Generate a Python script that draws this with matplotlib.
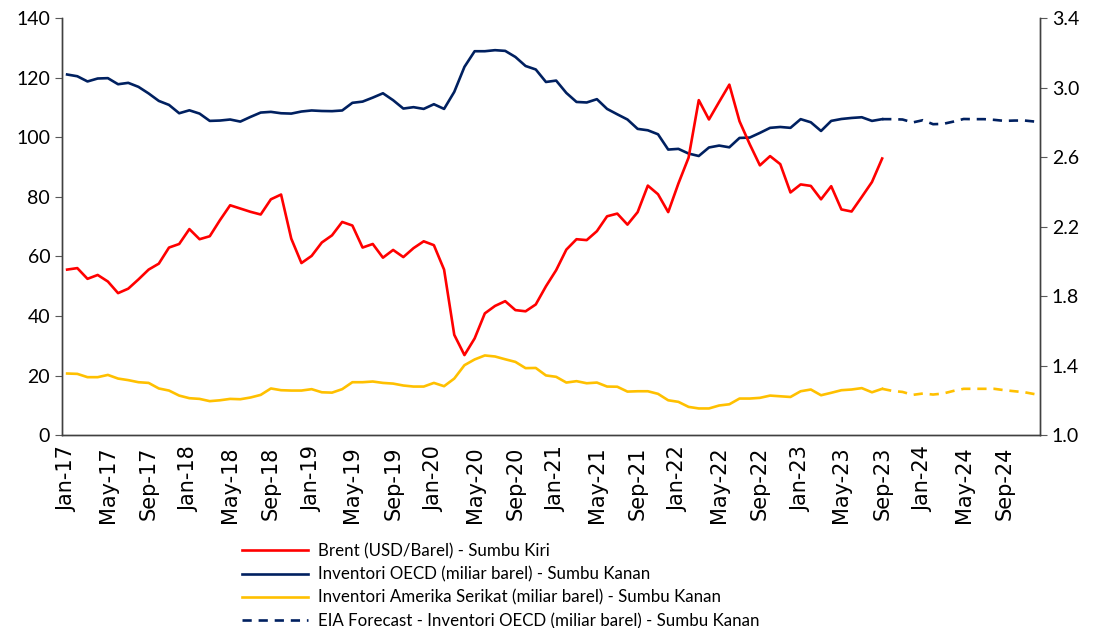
import matplotlib
matplotlib.use("Agg")
import matplotlib.pyplot as plt
import numpy as np
import pandas as pd

plt.rcParams['font.family'] = ['Lato', 'DejaVu Sans']

# monthly categories Jan-17 .. Dec-24
months = pd.date_range('2017-01-01', periods=96, freq='MS').strftime('%b-%y').tolist()

# Brent (USD/barel), Jan-17 .. Sep-23
brent = [55.6, 56.1, 52.5, 53.8, 51.6, 47.7, 49.2, 52.3, 55.6, 57.6, 63.0, 64.2,
         69.2, 65.8, 66.8, 72.2, 77.2, 76.1, 75.0, 74.1, 79.2, 80.8, 66.0, 57.8,
         60.2, 64.7, 67.1, 71.6, 70.4, 63.0, 64.2, 59.6, 62.2, 59.8, 62.8, 65.1,
         63.8, 55.6, 33.7, 26.9, 32.5, 40.9, 43.4, 45.0, 42.0, 41.6, 43.9, 50.0,
         55.4, 62.3, 65.8, 65.5, 68.5, 73.5, 74.4, 70.7, 74.9, 83.8, 80.9, 74.9,
         84.5, 93.2, 112.5, 106.0, 111.9, 117.7, 105.4, 97.7, 90.6, 93.7, 91.0, 81.5,
         84.2, 83.7, 79.2, 83.6, 75.8, 75.1, 80.0, 85.0, 92.9]

# OECD inventories (miliar barel), Jan-17 .. Sep-23
oecd = [3.076, 3.066, 3.036, 3.053, 3.055, 3.020, 3.028, 3.005, 2.967, 2.924, 2.901, 2.853,
        2.870, 2.851, 2.809, 2.811, 2.817, 2.805, 2.832, 2.857, 2.861, 2.853, 2.851, 2.863,
        2.869, 2.866, 2.865, 2.869, 2.913, 2.920, 2.943, 2.968, 2.928, 2.880, 2.888, 2.878,
        2.905, 2.878, 2.976, 3.120, 3.210, 3.210, 3.216, 3.212, 3.177, 3.125, 3.105, 3.033,
        3.041, 2.970, 2.918, 2.915, 2.934, 2.878, 2.847, 2.817, 2.763, 2.755, 2.732, 2.644,
        2.648, 2.621, 2.607, 2.656, 2.667, 2.657, 2.711, 2.713, 2.740, 2.769, 2.774, 2.769,
        2.819, 2.801, 2.751, 2.809, 2.820, 2.826, 2.830, 2.809, 2.819]

# US inventories (miliar barel), Jan-17 .. Sep-23
us = [1.355, 1.353, 1.334, 1.334, 1.347, 1.326, 1.317, 1.305, 1.301, 1.269, 1.257, 1.228,
      1.213, 1.209, 1.196, 1.201, 1.209, 1.207, 1.217, 1.232, 1.269, 1.259, 1.257, 1.257,
      1.265, 1.247, 1.245, 1.265, 1.305, 1.305, 1.309, 1.301, 1.297, 1.286, 1.280, 1.280,
      1.301, 1.282, 1.326, 1.403, 1.436, 1.459, 1.453, 1.437, 1.422, 1.386, 1.387, 1.344,
      1.336, 1.303, 1.311, 1.299, 1.303, 1.280, 1.279, 1.251, 1.253, 1.253, 1.238, 1.201,
      1.192, 1.163, 1.154, 1.154, 1.171, 1.178, 1.211, 1.211, 1.215, 1.228, 1.224, 1.220,
      1.253, 1.263, 1.230, 1.244, 1.259, 1.263, 1.271, 1.247, 1.267]

# EIA forecast, Sep-23 .. Dec-24
oecd_fc = [2.819, 2.819, 2.817, 2.800, 2.813, 2.790, 2.792, 2.805,
           2.820, 2.819, 2.819, 2.815, 2.809, 2.811, 2.811, 2.805]
us_fc = [1.267, 1.255, 1.249, 1.232, 1.240, 1.234, 1.240, 1.255,
         1.267, 1.267, 1.267, 1.267, 1.259, 1.253, 1.247, 1.236]

x = np.arange(len(months))
x_act = x[:len(brent)]
x_fc = x[len(brent) - 1:]

RED = '#FF0000'
NAVY = '#002060'
GOLD = '#FFC000'

fig = plt.figure(figsize=(10.94, 6.28), dpi=100)
ax = fig.add_axes([0.0567, 0.307, 0.894, 0.664])
ax2 = ax.twinx()

l1, = ax.plot(x_act, brent, color=RED, lw=1.9, label='Brent (USD/Barel) - Sumbu Kiri', zorder=3)
l2, = ax2.plot(x_act, oecd, color=NAVY, lw=1.9, label='Inventori OECD (miliar barel) - Sumbu Kanan')
l3, = ax2.plot(x_act, us, color=GOLD, lw=1.9, label='Inventori Amerika Serikat (miliar barel) - Sumbu Kanan')
l4, = ax2.plot(x_fc, oecd_fc, color=NAVY, lw=1.9, ls=(0, (3.5, 2.6)),
               label='EIA Forecast - Inventori OECD (miliar barel) - Sumbu Kanan')
ax2.plot(x_fc, us_fc, color=GOLD, lw=1.9, ls=(0, (3.5, 2.6)))

ax.set_zorder(ax2.get_zorder() + 1)
ax.patch.set_visible(False)

ax.set_xlim(-0.5, len(months) - 0.5)
ax.set_ylim(0, 140)
ax.set_yticks(np.arange(0, 141, 20))
ax2.set_ylim(1.0, 3.4)
ax2.set_yticks(np.arange(1.0, 3.41, 0.4))
ax2.set_yticklabels([f'{v:.1f}' for v in np.arange(1.0, 3.41, 0.4)])

ax.set_xticks(x[::4])
ax.set_xticklabels(months[::4], rotation=90, family='DejaVu Sans', fontsize=15)
ax.tick_params(axis='x', length=0, pad=8)
ax.tick_params(axis='y', labelsize=14, length=5, color='#595959')
ax2.tick_params(axis='y', labelsize=14, length=5, color='#595959')

for a in (ax, ax2):
    a.spines['top'].set_visible(False)
    for s in ('left', 'right', 'bottom'):
        a.spines[s].set_color('#404040')
        a.spines[s].set_linewidth(1.0)

fig.legend(handles=[l1, l2, l3, l4], loc='upper left', bbox_to_anchor=(0.215, 0.146),
           frameon=False, fontsize=12.2, handlelength=3.9, labelspacing=0.42,
           handletextpad=0.6, borderaxespad=0)

fig.savefig('out.png', dpi=100)
